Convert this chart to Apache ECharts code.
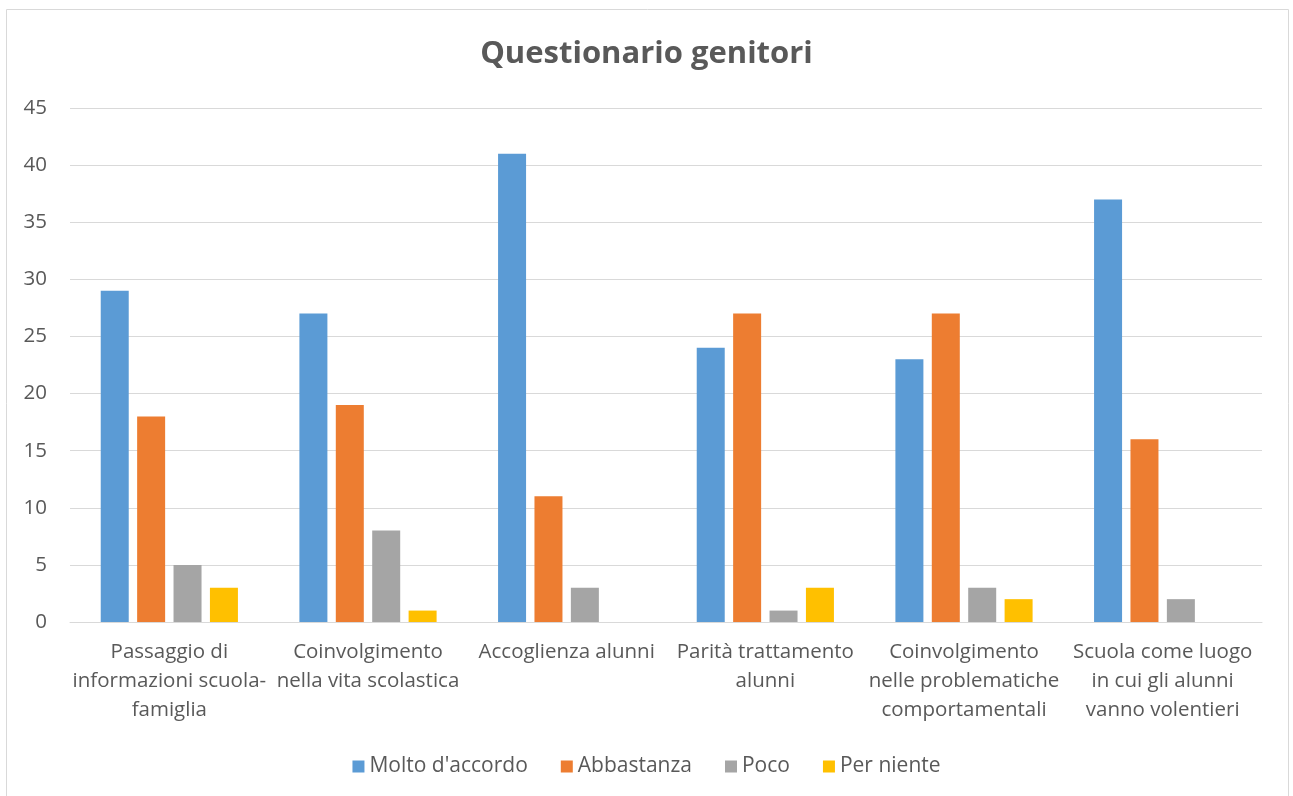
<!DOCTYPE html>
<html><head><meta charset="utf-8">
<script src="https://cdn.jsdelivr.net/npm/echarts@6/dist/echarts.min.js"></script>
<style>html,body{margin:0;padding:0;background:#fff}#c{width:1293px;height:796px}</style>
</head><body><div id="c"></div>
<script>
const title = "Questionario genitori";
const categories = [
  "Passaggio di informazioni scuola-famiglia",
  "Coinvolgimento nella vita scolastica",
  "Accoglienza alunni",
  "Parità trattamento alunni",
  "Coinvolgimento nelle problematiche comportamentali",
  "Scuola come luogo in cui gli alunni vanno volentieri"
];
const categoryLabels = [
  "Passaggio di\ninformazioni scuola-\nfamiglia",
  "Coinvolgimento\nnella vita scolastica",
  "Accoglienza alunni",
  "Parità trattamento\nalunni",
  "Coinvolgimento\nnelle problematiche\ncomportamentali",
  "Scuola come luogo\nin cui gli alunni\nvanno volentieri"
];
const seriesNames = ["Molto d'accordo", "Abbastanza", "Poco", "Per niente"];
const molto = [29, 27, 41, 24, 23, 37];
const abbastanza = [18, 19, 11, 27, 27, 16];
const poco = [5, 8, 3, 1, 3, 2];
const perNiente = [3, 1, 0, 3, 2, 0];
const yTicks = [0, 5, 10, 15, 20, 25, 30, 35, 40, 45];

const colors = ['#5b9bd5', '#ed7d31', '#a5a5a5', '#ffc000'];
const font = "'Open Sans', 'Noto Sans', sans-serif";
const values = [molto, abbastanza, poco, perNiente];

const chart = echarts.init(document.getElementById('c'));
chart.setOption({
  animation: false,
  textStyle: { fontFamily: font },
  title: {
    text: title, left: 'center', top: 34,
    textStyle: { fontSize: 31, fontWeight: 'bold', color: '#595959', fontFamily: font }
  },
  graphic: [{
    type: 'rect', shape: { x: 6.5, y: 9.5, width: 1282, height: 800 },
    style: { fill: 'none', stroke: '#d9d9d9', lineWidth: 1 }, silent: true
  }],
  legend: {
    top: 751, left: 'center', itemWidth: 12, itemHeight: 12, itemGap: 33,
    icon: 'rect',
    textStyle: { fontSize: 21, color: '#595959', fontFamily: font, padding: [0, 0, 0, 0] },
    data: seriesNames
  },
  grid: { left: 70, right: 31, top: 108, bottom: 174, containLabel: false },
  xAxis: {
    type: 'category', data: categories,
    axisLine: { show: true, lineStyle: { color: '#d9d9d9', width: 1 } },
    axisTick: { show: false },
    axisLabel: {
      interval: 0, margin: 16, fontSize: 20.5, lineHeight: 29, color: '#595959', fontFamily: font,
      formatter: (v, i) => categoryLabels[i]
    }
  },
  yAxis: {
    type: 'value', min: yTicks[0], max: yTicks[yTicks.length - 1], interval: 5,
    axisLine: { show: false }, axisTick: { show: false },
    axisLabel: { fontSize: 20.5, color: '#595959', margin: 23, fontFamily: font },
    splitLine: { lineStyle: { color: '#d9d9d9', width: 1 } }
  },
  series: seriesNames.map((n, k) => ({
    name: n, type: 'bar', data: values[k], barWidth: 28, barGap: '30%',
    itemStyle: { color: colors[k] }
  }))
});
</script></body></html>
